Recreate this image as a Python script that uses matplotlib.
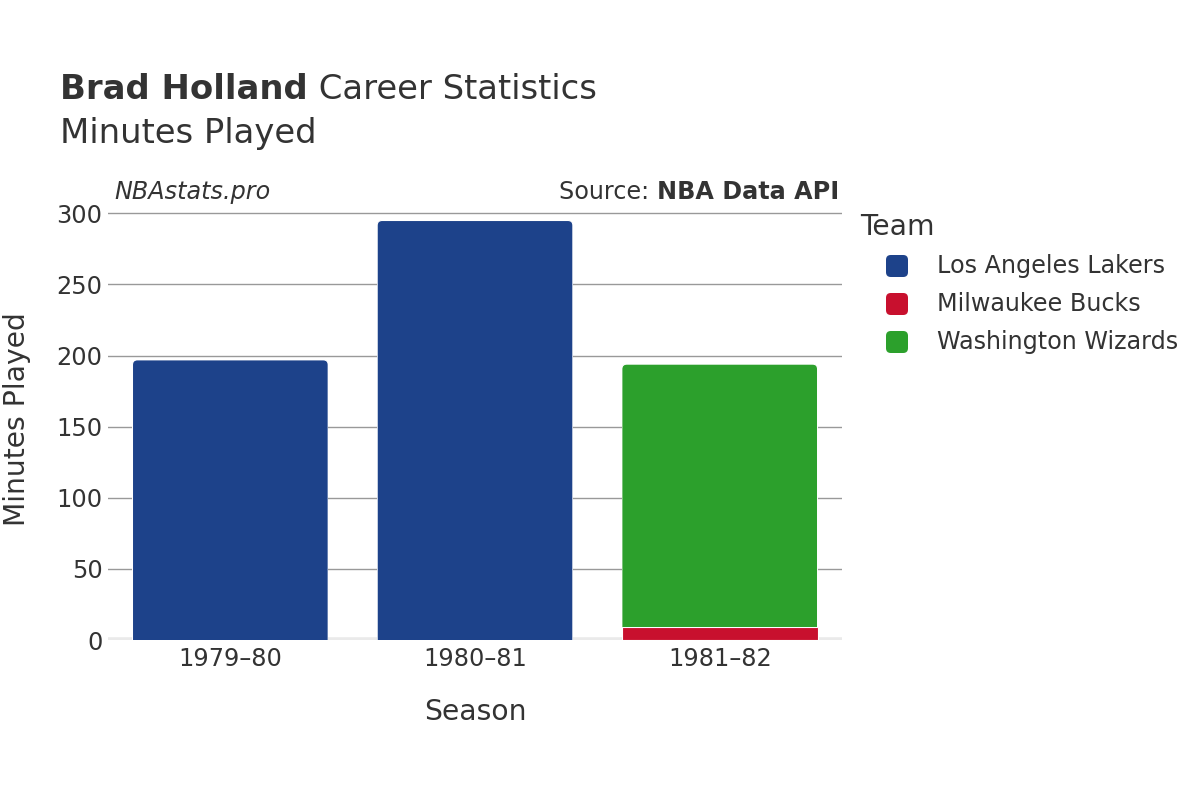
"""Brad Holland career minutes played, stacked by team."""

import matplotlib
matplotlib.use('Agg')
import matplotlib.pyplot as plt
from matplotlib.patches import FancyBboxPatch

seasons = ['1979–80', '1980–81', '1981–82']
teams = ['Los Angeles Lakers', 'Milwaukee Bucks', 'Washington Wizards']
team_colors = ['#1d428a', '#c8102e', '#2ca02c']
# minutes per team per season (stacked in this order)
lakers = [197, 295, 0]
bucks = [0, 0, 9]
wizards = [0, 0, 185]
yticks = [0, 50, 100, 150, 200, 250, 300]

TEXT = '#333333'
YMAX = 308
plt.rcParams['font.family'] = ['DejaVu Sans']

fig = plt.figure(figsize=(12, 8), dpi=100)
ax = fig.add_axes([0.09, 0.2, 0.6117, 0.5475])
ax.set_xlim(-0.5, 2.5)
ax.set_ylim(0, YMAX)

x = list(range(len(seasons)))
bottom = [0] * len(seasons)
top_rects = {}
for vals, color in zip([lakers, bucks, wizards], team_colors):
    bars = ax.bar(x, vals, width=0.8, bottom=bottom, color=color,
                  edgecolor='white', linewidth=0.8, zorder=3)
    for i, (rect, v) in enumerate(zip(bars, vals)):
        if v > 0:
            top_rects[i] = rect
    bottom = [b + v for b, v in zip(bottom, vals)]

# round the top corners of each stack's top segment
px_x = ax.get_position().width * 1200 / 3.0
px_y = ax.get_position().height * 800 / YMAX
radius = 5 / px_x
aspect = px_x / px_y
for rect in top_rects.values():
    x0, y0 = rect.get_x(), rect.get_y()
    w, h = rect.get_width(), rect.get_height()
    extra = radius * aspect
    rounded = FancyBboxPatch((x0, y0 - extra), w, h + extra,
                             boxstyle=f'round,pad=0,rounding_size={radius}',
                             mutation_aspect=aspect,
                             facecolor=rect.get_facecolor(),
                             edgecolor='white', linewidth=0.8, zorder=3)
    ax.add_patch(rounded)
    rounded.set_clip_path(rect)
    rect.set_visible(False)

ax.set_yticks(yticks)
ax.set_xticks(x)
ax.set_xticklabels(seasons)
ax.grid(axis='y', color='#999999', linewidth=1, zorder=0)
ax.axhline(0, color='#eaeaea', linewidth=4, zorder=2)
for s in ax.spines.values():
    s.set_visible(False)
ax.tick_params(length=0, labelsize=17.3, colors=TEXT, pad=5)
ax.tick_params(axis='y', pad=4)

fig.text(0.014, 0.476, 'Minutes Played', rotation=90, ha='center',
         va='center', fontsize=20.3, color=TEXT)
fig.text(0.396, 0.11, 'Season', ha='center', va='center',
         fontsize=20.3, color=TEXT)

# title: bold name + regular rest
t1 = fig.text(0.05, 0.888, 'Brad Holland', fontsize=24.4, fontweight='bold',
              color=TEXT, va='center')
fig.canvas.draw()
bb = t1.get_window_extent()
fig.text(bb.x1 / 1200, 0.888, ' Career Statistics', fontsize=24.4,
         color=TEXT, va='center')
fig.text(0.05, 0.833, 'Minutes Played', fontsize=24.4, color=TEXT,
         va='center')

fig.text(0.095, 0.76, 'NBAstats.pro', fontsize=17.2, style='italic',
         color=TEXT, va='center')
s2 = fig.text(0.699, 0.76, 'NBA Data API', fontsize=17.2, fontweight='bold',
              color=TEXT, va='center', ha='right')
fig.canvas.draw()
bb2 = s2.get_window_extent()
fig.text(bb2.x0 / 1200, 0.76, 'Source: ', fontsize=17.2, color=TEXT,
         va='center', ha='right')

# legend
fig.text(0.717, 0.716, 'Team', fontsize=20.3, color=TEXT, va='center')
for i, (name, color) in enumerate(zip(teams, team_colors)):
    yc = 800 - (266 + 38 * i)
    box = FancyBboxPatch((886 / 1200, (yc - 11) / 800), 22 / 1200, 22 / 800,
                         boxstyle='round,pad=0,rounding_size=0.004',
                         transform=fig.transFigure, facecolor=color,
                         edgecolor='none', mutation_aspect=1.5)
    fig.patches.append(box)
    fig.text(937 / 1200, yc / 800, name, fontsize=17.2, color=TEXT,
             va='center')

fig.savefig('out.png', dpi=100)
